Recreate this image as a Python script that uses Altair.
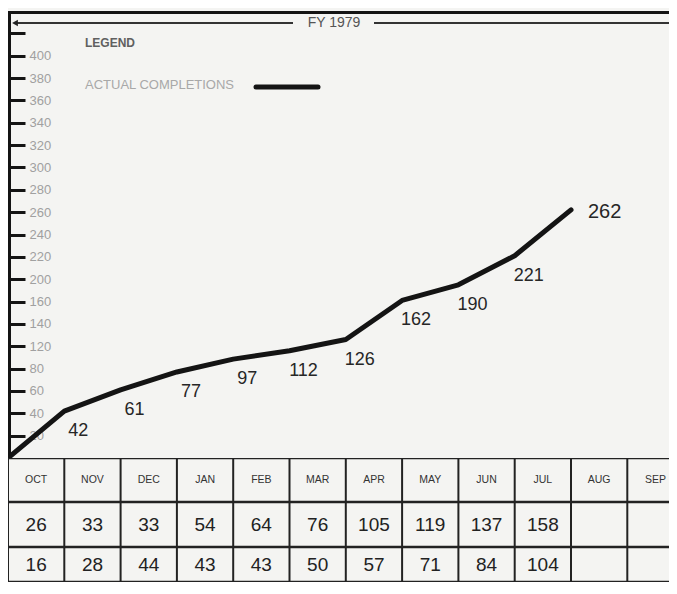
import altair as alt
import pandas as pd

# ---- data ----
months = ["OCT", "NOV", "DEC", "JAN", "FEB", "MAR", "APR", "MAY", "JUN", "JUL", "AUG", "SEP"]
cumulative = [0, 42, 61, 77, 97, 112, 126, 162, 190, 221, 262]   # value at end of each month
row1 = [26, 33, 33, 54, 64, 76, 105, 119, 137, 158]
row2 = [16, 28, 44, 43, 43, 50, 57, 71, 84, 104]
y_ticks = [20, 40, 60, 80, 120, 140, 160, 200, 220, 240, 260, 280, 300,
           320, 340, 360, 380, 400, 420]
# the printed axis has evenly spaced ticks whose labels skip 100 and 180
y_breaks = [0, 80, 120, 160, 200, 440]
y_steps = [0, 4, 5, 7, 8, 20]

# ---- layout ----
W = 661          # visible plot width (chart is cut at the right edge)
H = 447          # plot height
TH = 124         # table height
STEP = 56.3      # pixel width of one month column
unit = H / y_steps[-1]

FONT = "Liberation Sans"
INK = "#141414"

xs = alt.Scale(domain=[0, W / STEP], nice=False, zero=False)
ys = alt.Scale(domain=y_breaks, range=[H - s * unit for s in y_steps],
               nice=False, zero=False)

line_df = pd.DataFrame({"m": list(range(len(cumulative))), "v": cumulative})
last = len(cumulative) - 1

x_enc = alt.X("m:Q", scale=xs, axis=None)
y_enc = alt.Y(
    "v:Q", scale=ys,
    axis=alt.Axis(
        orient="right", offset=-(W - 2), values=y_ticks, title=None, grid=False,
        labelExpr="datum.value == 420 ? '' : datum.label",
        domain=False, tickColor=INK, tickWidth=3, tickSize=15,
        labelPadding=4, labelColor="#a0a0a0", labelFontSize=13, labelFont=FONT,
        labelAlign="left", labelBaseline="middle",
    ),
)

line = alt.Chart(line_df).mark_line(
    color=INK, strokeWidth=5, strokeCap="round", strokeJoin="round", clip=True
).encode(x=x_enc, y=y_enc)

labels = alt.Chart(line_df).transform_filter(
    f"datum.m >= 1 && datum.m < {last}"
).mark_text(
    dx=14, dy=20, fontSize=18, font=FONT, color="#262626", clip=True
).encode(x=x_enc, y=y_enc, text="v:Q")

last_label = alt.Chart(line_df).transform_filter(
    f"datum.m == {last}"
).mark_text(
    dx=17, dy=2, fontSize=20, font=FONT, color="#262626", align="left", clip=True
).encode(x=x_enc, y=y_enc, text="v:Q")

# ---- decorations: frame, FY banner, legend ----
one = pd.DataFrame({"k": [1]})
top_rule = alt.Chart(one).mark_rule(color=INK, strokeWidth=3, clip=True).encode(
    x=alt.value(0), x2=alt.value(W), y=alt.value(1.5))
left_rule = alt.Chart(one).mark_rule(color=INK, strokeWidth=3, clip=True).encode(
    x=alt.value(1.5), y=alt.value(0), y2=alt.value(H))

fy_left = alt.Chart(one).mark_rule(color="#333333", strokeWidth=2, clip=True).encode(
    x=alt.value(6), x2=alt.value(285), y=alt.value(12))
fy_right = alt.Chart(one).mark_rule(color="#333333", strokeWidth=2, clip=True).encode(
    x=alt.value(366), x2=alt.value(W), y=alt.value(12))
fy_arrow = alt.Chart(one).mark_point(
    shape="triangle-left", filled=True, color="#222222", size=45, opacity=1, clip=True
).encode(x=alt.value(7), y=alt.value(12))
fy_text = alt.Chart(pd.DataFrame({"t": ["FY 1979"]})).mark_text(
    fontSize=14, font=FONT, color="#555555", baseline="middle", clip=True
).encode(text="t:N", x=alt.value(326), y=alt.value(12))

legend_title = alt.Chart(pd.DataFrame({"t": ["LEGEND"]})).mark_text(
    fontSize=12, font=FONT, fontWeight="bold", color="#606060",
    align="left", baseline="middle", clip=True
).encode(text="t:N", x=alt.value(77), y=alt.value(32))
legend_label = alt.Chart(pd.DataFrame({"t": ["ACTUAL COMPLETIONS"]})).mark_text(
    fontSize=13, font=FONT, color="#a8a8a8", align="left", baseline="middle", clip=True
).encode(text="t:N", x=alt.value(77), y=alt.value(74))
legend_line = alt.Chart(one).mark_rule(
    color=INK, strokeWidth=5, strokeCap="round", clip=True
).encode(x=alt.value(248), x2=alt.value(310), y=alt.value(76))

top = alt.layer(
    top_rule, left_rule, fy_left, fy_right, fy_arrow, fy_text,
    legend_title, legend_label, legend_line,
    line, labels, last_label,
).properties(width=W, height=H)

# ---- table below the plot ----
head_df = pd.DataFrame({"m": list(range(len(months))), "r": 0, "t": months})
val_df = pd.DataFrame({
    "m": list(range(len(row1))) + list(range(len(row2))),
    "r": [1] * len(row1) + [2] * len(row2),
    "t": [str(v) for v in row1] + [str(v) for v in row2],
})
col_df = pd.DataFrame({"b": list(range(len(months)))})      # column boundaries
row_df = pd.DataFrame({"b": [0, 1, 2, 3]})                    # row boundaries

tys = alt.Scale(domain=[0, 1, 2, 3], range=[0, 44, 89, TH], nice=False, zero=False)
tx = alt.X("xc:Q", scale=xs, axis=None)
ty = alt.Y("yc:Q", scale=tys, axis=None)

vlines = alt.Chart(col_df).mark_rule(color="#222222", strokeWidth=2, clip=True).encode(
    x=alt.X("b:Q", scale=xs, axis=None))
hlines = alt.Chart(row_df).mark_rule(color="#222222", strokeWidth=2.5, clip=True).encode(
    y=alt.Y("b:Q", scale=tys, axis=None))

head = alt.Chart(head_df).transform_calculate(
    xc="datum.m + 0.5", yc="datum.r + 0.5"
).mark_text(fontSize=10.5, font=FONT, color="#333333", clip=True).encode(
    x=tx, y=ty, text="t:N")

vals = alt.Chart(val_df).transform_calculate(
    xc="datum.m + 0.5", yc="datum.r + 0.5"
).mark_text(fontSize=19, font=FONT, color="#222222", clip=True).encode(
    x=tx, y=ty, text="t:N")

table = alt.layer(vlines, hlines, head, vals).properties(width=W, height=TH)

chart = alt.vconcat(top, table, spacing=0).properties(
    padding={"left": 0, "top": 3, "right": 0, "bottom": 0},
    background="#f4f4f2",
).configure_view(strokeWidth=0, strokeOpacity=0)

chart.save("out.html", embed_options={"renderer": "svg", "actions": False})
